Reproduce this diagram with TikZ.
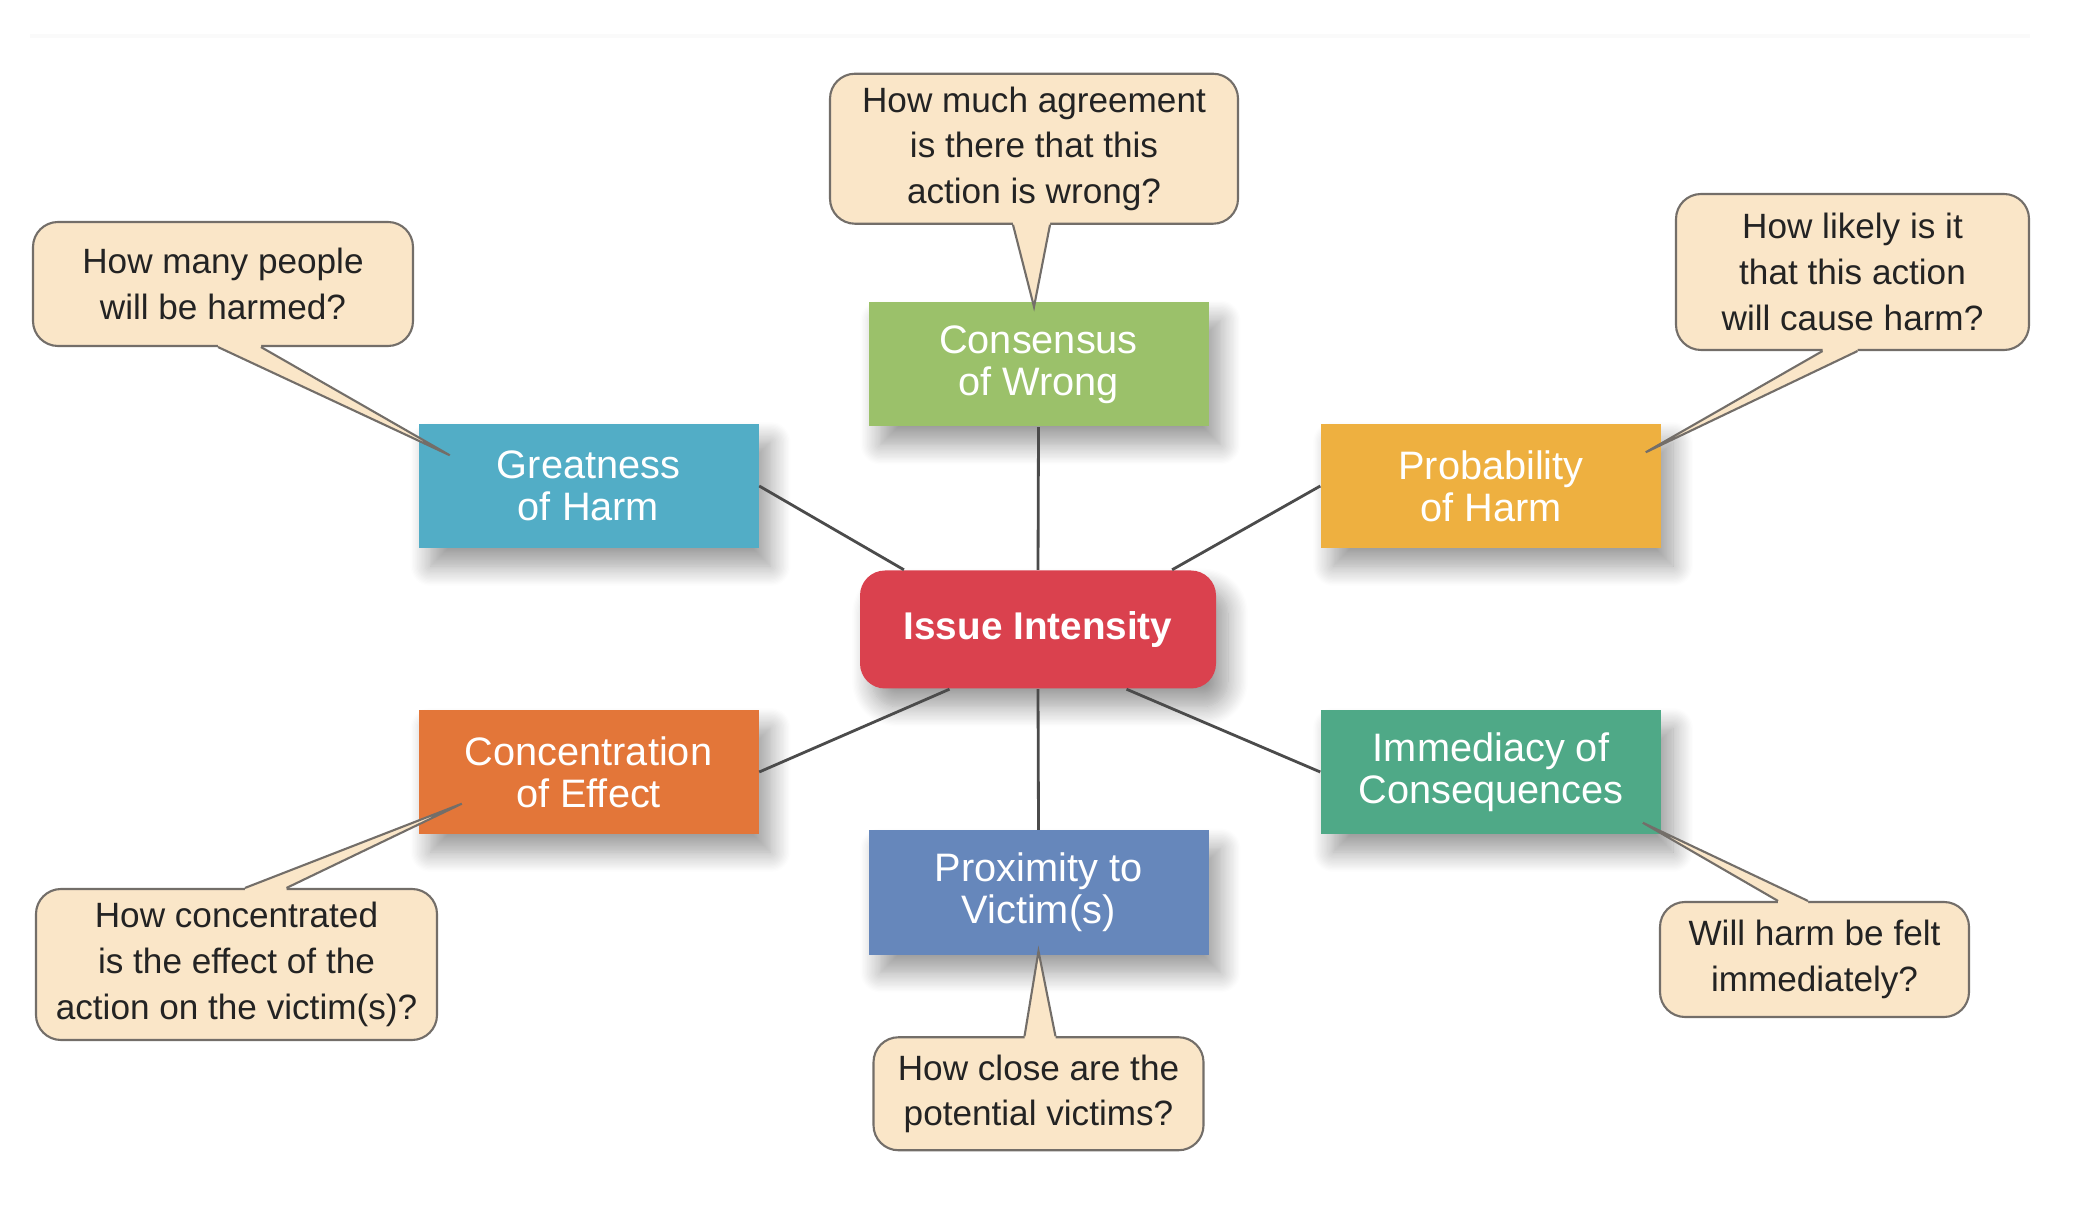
\documentclass[tikz,border=0pt]{standalone}
\usepackage{fontspec}
\setmainfont{Liberation Sans}
\usepackage{tikz}
\usetikzlibrary{positioning,calc,shadows.blur}
\definecolor{ired}{RGB}{218,65,78}
\definecolor{cgreen}{RGB}{155,193,106}
\definecolor{gblue}{RGB}{82,173,198}
\definecolor{pyellow}{RGB}{238,176,64}
\definecolor{corange}{RGB}{227,118,57}
\definecolor{pblue}{RGB}{102,135,187}
\definecolor{igreen}{RGB}{79,169,135}
\definecolor{qfill}{RGB}{250,230,200}
\definecolor{qedge}{RGB}{115,110,105}
\definecolor{qtext}{RGB}{35,35,35}
\definecolor{lgray}{RGB}{75,75,75}
\tikzset{
  factor/.style  ={rectangle, minimum width=3.4cm, minimum height=1.24cm,
                   inner sep=0pt, align=center, text=white,
                   font=\fontsize{11.3}{12}\selectfont,
                   blur shadow={shadow xshift=1.2mm, shadow yshift=-1.8mm,
                   shadow blur radius=2mm, shadow blur steps=16, shadow opacity=40}},
  core/.style    ={factor, fill=ired, rounded corners=2.5mm, minimum width=3.56cm,
                   minimum height=1.18cm, font=\fontsize{11}{13}\selectfont\bfseries},
  quest/.style   ={rectangle, rounded corners=2.5mm, draw=qedge, line width=0.6pt,
                   fill=qfill, align=center, inner sep=0pt, text=qtext,
                   font=\fontsize{10}{13}\selectfont},
  link/.style    ={draw=lgray, line width=0.8pt},
  tailline/.style={draw=qedge, line width=0.6pt, line join=miter}
}
% tail of a question bubble: anchor, left/right offset, tip, inward shift
\newcommand\qtail[5]{%
  \fill[qfill] ($(#1)+(#2,#5)$) -- ($(#1)+(#2,0)$) -- (#4) -- ($(#1)+(#3,0)$)
    -- ($(#1)+(#3,#5)$) -- cycle;
  \draw[tailline] ($(#1)+(#2,0)$) -- (#4) -- ($(#1)+(#3,0)$);
}

\begin{document}
\begin{tikzpicture}
\useasboundingbox (0,0) rectangle (20.96,-12.22);
\draw[black!2, line width=1pt] (0.3,-0.36) -- (20.3,-0.36);

% factors
\node[core] (issue) at (10.38,-6.295) {Issue Intensity};
\node[factor, fill=cgreen]  (cw) at (10.385,-3.645) {Consensus\\of Wrong};
\node[factor, fill=gblue]   (gh) at (5.885,-4.86)   {Greatness\\of Harm};
\node[factor, fill=pyellow] (ph) at (14.91,-4.86)   {Probability\\of Harm};
\node[factor, fill=corange] (ce) at (5.885,-7.72)   {Concentration\\of Effect};
\node[factor, fill=igreen]  (ic) at (14.91,-7.72)   {Immediacy of\\Consequences};
\node[factor, fill=pblue]   (pv) at (10.385,-8.925) {Proximity to\\Victim(s)};

\draw[link] (cw.south) -- (issue.north);
\draw[link] (gh.east) -- (issue.156);
\draw[link] (ph.west) -- (issue.24);
\draw[link] (ce.east) -- (issue.214);
\draw[link] (ic.west) -- (issue.326);
\draw[link] (pv.north) -- (issue.south);

% questions
\node[quest, minimum width=4.08cm, minimum height=1.5cm, above=7.7mm of cw, xshift=-0.045cm] (qcw)
  {How much agreement\\is there that this\\action is wrong?};
\node[quest, minimum width=3.8cm, minimum height=1.24cm] (qgh) at (2.23,-2.84)
  {How many people\\will be harmed?};
\node[quest, minimum width=3.53cm, minimum height=1.56cm] (qph) at (18.525,-2.72)
  {How likely is it\\that this action\\will cause harm?};
\node[quest, minimum width=4.01cm, minimum height=1.51cm] (qce) at (2.365,-9.645)
  {How concentrated\\is the effect of the\\action on the victim(s)?};
\node[quest, minimum width=3.3cm, minimum height=1.13cm, below=8.1mm of pv] (qpv)
  {How close are the\\potential victims?};
\node[quest, minimum width=3.09cm, minimum height=1.15cm] (qic) at (18.145,-9.595)
  {Will harm be felt\\immediately?};

\coordinate (tcw) at ($(cw.north)+(-0.045,-0.05)$);
\coordinate (tgh) at ($(gh.north west)+(0.32,-0.32)$);
\coordinate (tph) at ($(ph.north east)+(-0.16,-0.29)$);
\coordinate (tce) at ($(ce.south west)+(0.44,0.31)$);
\coordinate (tpv) at ($(pv.south)+(0,0.04)$);
\coordinate (tic) at ($(ic.south east)+(-0.19,0.12)$);

\qtail{qcw.south}{-0.21}{0.16}{tcw}{0.05}
\qtail{qgh.south}{-0.05}{0.38}{tgh}{0.05}
\qtail{qph.south}{-0.30}{0.05}{tph}{0.05}
\qtail{qce.north}{0.085}{0.50}{tce}{-0.05}
\qtail{qpv.north}{-0.14}{0.17}{tpv}{-0.05}
\qtail{qic.north}{-0.365}{-0.065}{tic}{-0.05}
\end{tikzpicture}
\end{document}
